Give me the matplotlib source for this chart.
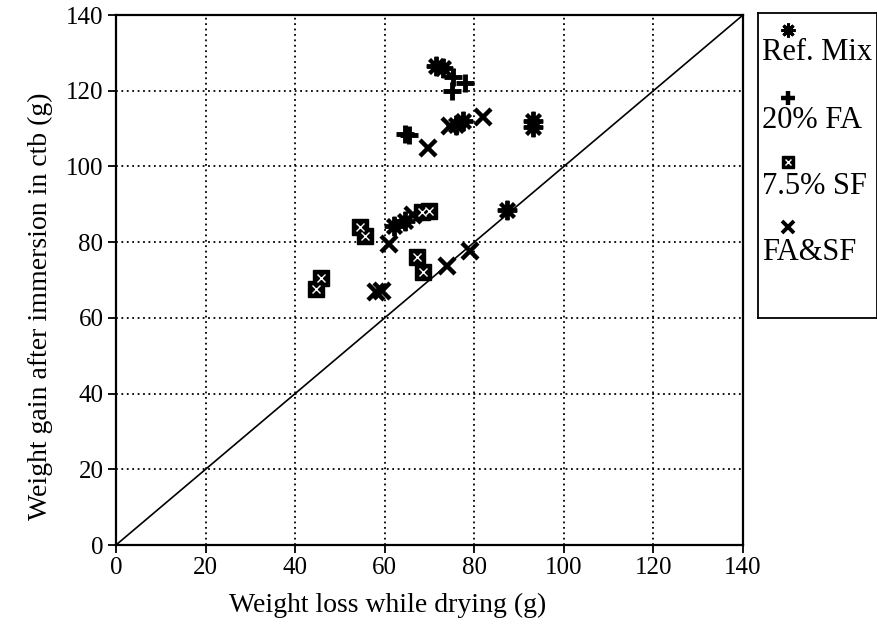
import matplotlib
matplotlib.use("Agg")
import matplotlib.pyplot as plt

plt.rcParams['font.family'] = ['Liberation Serif', 'DejaVu Serif']

# ---- data (weight loss while drying, weight gain after immersion) ----
ref_x = [71.5, 73.0, 76.0, 77.5, 93.0, 93.0, 62.0, 64.5, 87.2]
ref_y = [126.5, 126.0, 111.0, 112.0, 112.0, 110.5, 84.2, 85.5, 88.6]

fa_x = [75.3, 77.9, 75.1, 64.5, 65.5]
fa_y = [123.5, 122.1, 119.9, 108.5, 108.3]

sf_x = [54.5, 55.5, 45.7, 44.6, 67.1, 68.5, 68.3, 70.0]
sf_y = [84.0, 81.7, 70.5, 67.5, 76.1, 72.2, 87.9, 88.2]

fasf_x = [69.7, 74.6, 82.0, 66.3, 61.0, 58.0, 59.3, 73.8, 79.0]
fasf_y = [104.9, 110.7, 113.0, 87.3, 79.4, 66.8, 67.0, 73.6, 77.6]

line_xy = [0, 140]
ticks = [0, 20, 40, 60, 80, 100, 120, 140]
labels = ["Ref. Mix", "20% FA", "7.5% SF", "FA&SF"]

W, H = 878, 630
fig = plt.figure(figsize=(W / 100, H / 100), dpi=100)
ax = fig.add_axes([116 / W, (H - 545) / H, (743 - 116) / W, (545 - 15) / H])

ast = (8, 2, 0)

def draw_sf(a, x, y, ms):
    a.plot(x, y, 's', ms=ms, mfc='black', mec='black', mew=1, ls='none', zorder=3)
    a.plot(x, y, 'x', ms=ms * 0.5, mec='white', mew=1.0, ls='none', zorder=4)

ax.plot(line_xy, line_xy, color='black', lw=1.2, zorder=2)
ax.plot(ref_x, ref_y, ls='none', marker=ast, ms=14, mec='black', mew=2.8, zorder=3)
ax.plot(fa_x, fa_y, ls='none', marker='+', ms=13, mec='black', mew=3.5, zorder=3)
draw_sf(ax, sf_x, sf_y, 11)
ax.plot(fasf_x, fasf_y, ls='none', marker='x', ms=12, mec='black', mew=3.2, zorder=3)

ax.set_xlim(0, 140)
ax.set_ylim(0, 140)
ax.set_xticks(ticks)
ax.set_yticks(ticks)
ax.tick_params(direction='out', length=6, width=1.3, labelsize=18, pad=3, colors='black')
ax.grid(True, color='black', linestyle=(0, (1, 2)), linewidth=1.3)
for s in ax.spines.values():
    s.set_linewidth(1.6)
    s.set_color('black')
ax.set_xlabel("Weight loss while drying (g)", fontsize=20)
ax.set_ylabel("Weight gain after immersion in ctb (g)", fontsize=20)
ax.xaxis.set_label_coords(0.434, -0.09)
ax.yaxis.set_label_coords(-0.1, 0.45)

# ---- legend box (markers above their labels) ----
lg = fig.add_axes([758 / W, (H - 318) / H, (877 - 758) / W, (318 - 13) / H])
lg.set_xlim(0, 1)
lg.set_ylim(0, 1)
lg.set_xticks([])
lg.set_yticks([])
for s in lg.spines.values():
    s.set_linewidth(1.3)
    s.set_color('black')
mk_y = [0.944, 0.721, 0.511, 0.298]
tx_y = [0.869, 0.649, 0.430, 0.216]
lg.plot([0.25], [mk_y[0]], ls='none', marker=ast, ms=10, mec='black', mew=2.2)
lg.plot([0.25], [mk_y[1]], ls='none', marker='+', ms=10, mec='black', mew=3.2)
draw_sf(lg, [0.25], [mk_y[2]], 8)
lg.plot([0.25], [mk_y[3]], ls='none', marker='x', ms=9, mec='black', mew=2.8)
for t, yy in zip(labels, tx_y):
    lg.text(0.035, yy, t, fontsize=22, ha='left', va='center')

fig.savefig("out.png", dpi=100)
